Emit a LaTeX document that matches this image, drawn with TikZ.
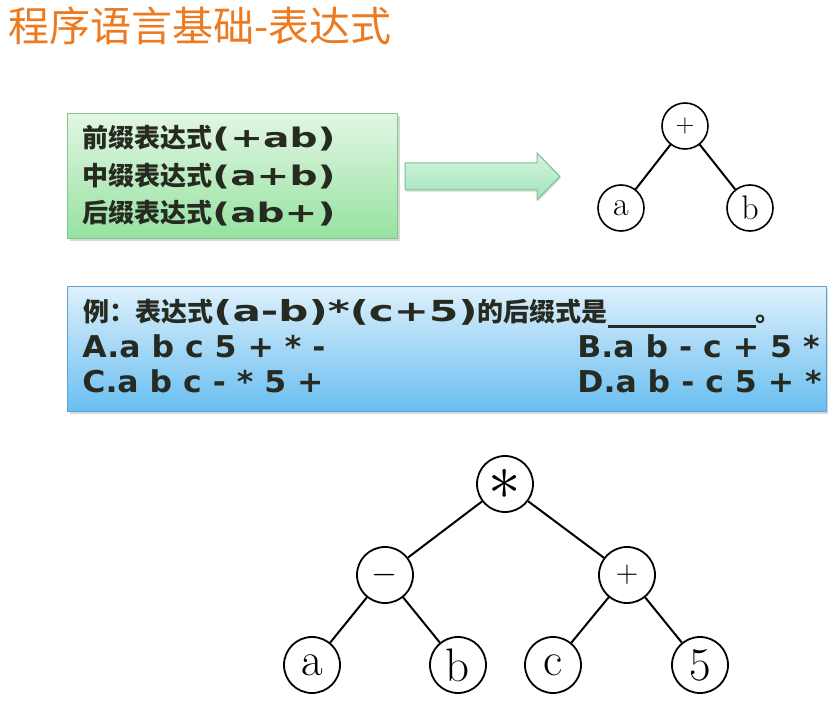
\documentclass[tikz,border=0pt]{standalone}
\usepackage{fontspec}
\usepackage{graphicx}
\usepackage{xcolor}
\usepackage{tikz}
\usetikzlibrary{shadows}

\newfontfamily\cjk{Noto Sans CJK SC}
\newfontfamily\latwide[FakeStretch=1.45]{DejaVu Sans}
\newfontfamily\lat[FakeStretch=1.05]{DejaVu Sans}
\newcommand\zh[2][26]{{\cjk\fontsize{#1}{#1}\selectfont #2}}
\newcommand\op[2]{\scalebox{#1}{$#2$}}

\definecolor{titleorange}{RGB}{238,122,32}
\definecolor{inktext}{RGB}{38,42,32}
\definecolor{greentop}{RGB}{226,246,228}
\definecolor{greenbot}{RGB}{150,226,160}
\definecolor{greenline}{RGB}{128,200,140}
\definecolor{arrowtop}{RGB}{212,244,224}
\definecolor{arrowbot}{RGB}{160,228,184}
\definecolor{arrowline}{RGB}{120,190,150}
\definecolor{bluetop}{RGB}{222,240,252}
\definecolor{bluebot}{RGB}{104,190,240}
\definecolor{blueline}{RGB}{96,164,214}

\begin{document}
\begin{tikzpicture}[x=1pt, y=-1pt, thick]
  \tikzstyle{vertex} = [circle, draw, line width=1.8pt, minimum size=56pt, inner sep=0pt, font=\fontsize{47}{47}\selectfont]
  \tikzstyle{smallvertex} = [circle, draw, line width=1.6pt, minimum size=46pt, inner sep=0pt, font=\fontsize{34}{34}\selectfont]
  \tikzstyle{edge} = [line width=2pt]
  \tikzstyle{greenbox} = [rectangle, draw=greenline, line width=1pt, top color=greentop, bottom color=greenbot, drop shadow={shadow xshift=2pt, shadow yshift=-3pt, opacity=0.3}, anchor=north west, minimum width=330pt, minimum height=125pt]
  \tikzstyle{bluebox} = [rectangle, draw=blueline, line width=1pt, top color=bluetop, bottom color=bluebot, drop shadow={shadow xshift=2pt, shadow yshift=-3pt, opacity=0.3}, anchor=north west, minimum width=759pt, minimum height=125pt]
  \tikzstyle{greenline} = [anchor=base west, inner sep=0pt, text=inktext, font=\latwide\bfseries\fontsize{27}{27}\selectfont]
  \tikzstyle{quizline} = [anchor=base west, inner sep=0pt, text=inktext, font=\lat\bfseries\fontsize{30}{30}\selectfont]

  \fill[white] (0,0) rectangle (828,703);
  \useasboundingbox (0,0) rectangle (828,703);

  % title
  \node[anchor=base west, inner sep=0pt, text=titleorange, font=\cjk\fontsize{41}{41}\selectfont] (title) at (8,42) {程序语言基础-表达式};

  % prefix / infix / postfix
  \node[greenbox] (forms) at (67,113) {};
  \node[greenline] (prefix) at (82,148) {\zh{前缀表达式}(+ab)};
  \node[greenline] (infix) at (82,185.5) {\zh{中缀表达式}(a+b)};
  \node[greenline] (postfix) at (82,223) {\zh{后缀表达式}(ab+)};

  \draw[draw=arrowline, line width=1pt, top color=arrowtop, bottom color=arrowbot, drop shadow={shadow xshift=1pt, shadow yshift=-2pt, opacity=0.2}]
    (405,163) -- (537,163) -- (537,153) -- (560,176.5) -- (537,200) -- (537,190) -- (405,190) -- cycle;

  \node[smallvertex] (sum) at (685,126) {\op{1.05}{+}};
  \node[smallvertex] (sum_a) at (621,208) {a};
  \node[smallvertex] (sum_b) at (750,208) {b};
  \draw[edge] (sum) -- (sum_a);
  \draw[edge] (sum) -- (sum_b);

  % example question
  \node[bluebox] (quiz) at (67,286) {};
  \node[quizline, font=\latwide\bfseries\fontsize{29}{29}\selectfont] (question) at (83,322)
    {\zh{例：表达式}(a-b)*(c+5)\zh{的后缀式是}\rule[-6pt]{148pt}{2.5pt}\zh{。}};
  \node[quizline] (opt_a) at (82,358) {A.a b c 5 + * -};
  \node[quizline] (opt_b) at (577,358) {B.a b - c + 5 *};
  \node[quizline] (opt_c) at (82,393) {C.a b c - * 5 +};
  \node[quizline] (opt_d) at (577,393) {D.a b - c 5 + *};

  % expression tree of (a-b)*(c+5)
  \node[vertex] (mul) at (505,484) {\op{2.6}{\ast}};
  \node[vertex] (minus) at (385,575) {\op{1.35}{-}};
  \node[vertex] (plus) at (627,575) {\op{1.25}{+}};
  \node[vertex] (leaf_a) at (312,665) {a};
  \node[vertex] (leaf_b) at (458,665) {b};
  \node[vertex] (leaf_c) at (553,665) {c};
  \node[vertex] (leaf_5) at (700,665) {5};

  \draw[edge] (mul) -- (minus);
  \draw[edge] (mul) -- (plus);
  \draw[edge] (minus) -- (leaf_a);
  \draw[edge] (minus) -- (leaf_b);
  \draw[edge] (plus) -- (leaf_c);
  \draw[edge] (plus) -- (leaf_5);
\end{tikzpicture}
\end{document}
